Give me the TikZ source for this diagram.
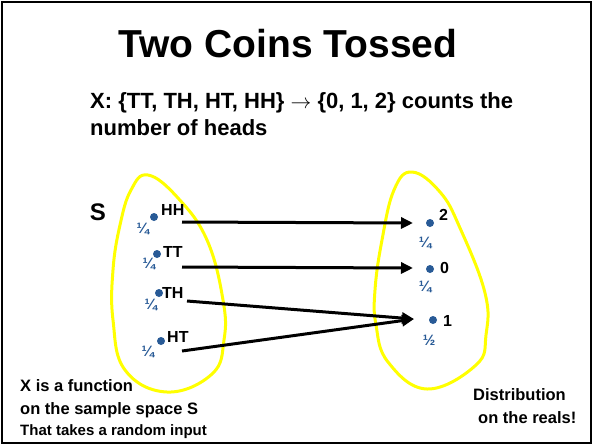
\documentclass[tikz,border=0pt]{standalone}
\usepackage{fontspec}
\setmainfont{Liberation Sans}
\usetikzlibrary{arrows.meta}
\definecolor{dotblue}{RGB}{40,90,150}
\definecolor{blobyellow}{RGB}{255,255,0}
\tikzset{
  pt/.style={circle,fill=dotblue,inner sep=0pt,minimum size=8pt},
  lbl/.style={font=\fontsize{16}{18}\selectfont\bfseries,inner sep=0pt,anchor=west},
  prob/.style={font=\fontsize{15}{16}\selectfont\bfseries,text=dotblue,inner sep=0pt},
  arr/.style={line width=3pt,-{Triangle[length=12pt,width=11pt]}},
  blob/.style={draw=blobyellow,line width=3pt},
  txt/.style={font=\fontsize{16.5}{18}\selectfont\bfseries,inner sep=0pt,anchor=west}
}
\begin{document}
\begin{tikzpicture}[x=1pt,y=-1pt]
\useasboundingbox (0,0) rectangle (593,445);
\draw[line width=2pt] (2,2) rectangle (591,443);
% title
\node[font=\fontsize{39}{44}\selectfont\bfseries,inner sep=0pt] (title) at (288,44) {Two Coins Tossed};
\node[font=\fontsize{22}{27}\selectfont\bfseries,inner sep=0pt,anchor=north west,align=left] (desc) at (90,92)
  {X: \{TT, TH, HT, HH\} $\rightarrow$ \{0, 1, 2\} counts the\\number of heads};
\node[font=\fontsize{24}{26}\selectfont\bfseries,inner sep=0pt] (S) at (98,212) {S};
% blobs
\draw[blob] plot[smooth cycle,tension=0.7] coordinates {(148,175) (178,198) (207,240) (223,300) (224,340) (212,374) (167,392) (125,370) (113,320) (113,270) (120,225) (131,190)};
\draw[blob] plot[smooth cycle,tension=0.7] coordinates {(412,172) (440,192) (460,228) (485,293) (486,335) (476,365) (427,389) (388,362) (376,325) (375,290) (382,240) (394,190)};
% left points
\node[pt] (hh) at (154,217) {};
\node[lbl] (hhl) at (161,210) {HH};
\node[prob] (hhp) at (143,229) {¼};
\node[pt] (tt) at (157,254) {};
\node[lbl] (ttl) at (163,252) {TT};
\node[prob] (ttp) at (149,264) {¼};
\node[pt] (th) at (159,293) {};
\node[lbl] (thl) at (162,293) {TH};
\node[prob] (thp) at (151,305) {¼};
\node[pt] (ht) at (161,341) {};
\node[lbl] (htl) at (167,337) {HT};
\node[prob] (htp) at (148,352) {¼};
% right points
\node[pt] (two) at (430,223) {};
\node[lbl] (twol) at (439,215) {2};
\node[prob] (twop) at (425,243) {¼};
\node[pt] (zero) at (430,269) {};
\node[lbl] (zerol) at (440,268) {0};
\node[prob] (zerop) at (425,287) {¼};
\node[pt] (one) at (433,320) {};
\node[lbl] (onel) at (443,321) {1};
\node[prob] (onep) at (429,340) {½};
% arrow starts
\coordinate (s1) at (182,222);
\coordinate (s2) at (182,267);
\coordinate (s3) at (187,301);
\coordinate (s4) at (182,351);
\coordinate (e1) at (413,223);
\coordinate (e2) at (413,268);
\coordinate (e3) at (414,319);
\draw[arr] (s1) -- (e1);
\draw[arr] (s2) -- (e2);
\draw[arr] (s3) -- (e3);
\draw[arr] (s4) -- (e3);
% bottom texts
\node[txt] (f1) at (20,386) {X is a function};
\node[txt] (f2) at (20,410) {on the sample space S};
\node[txt,font=\fontsize{15}{16}\selectfont\bfseries] (f3) at (20,432) {That takes a random input};
\node[txt] (d1) at (473,395) {Distribution};
\node[txt] (d2) at (478,418) {on the reals!};
\end{tikzpicture}
\end{document}
